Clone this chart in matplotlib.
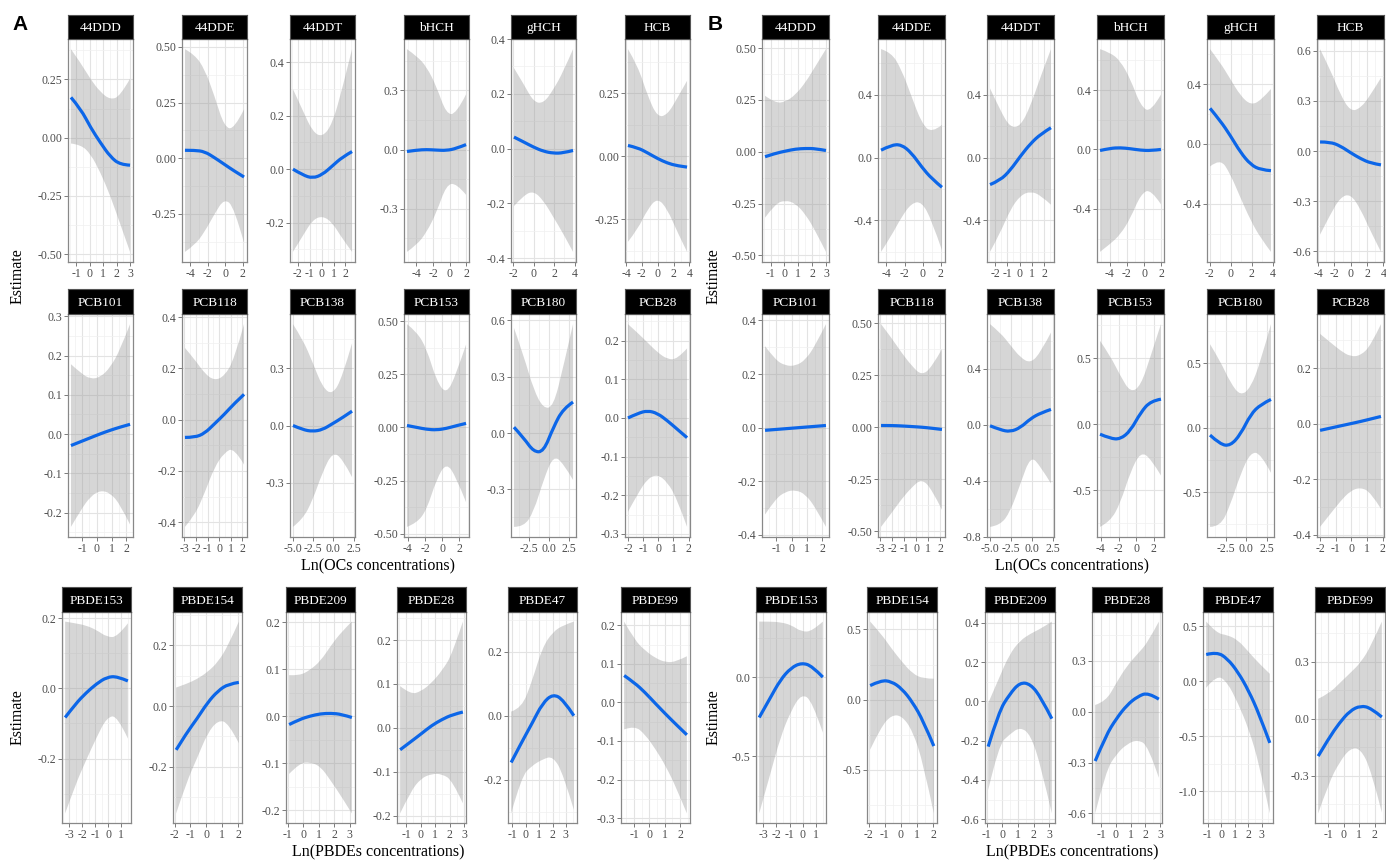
import numpy as np
import matplotlib
matplotlib.use("Agg")
import matplotlib.pyplot as plt
from matplotlib.path import Path
from matplotlib.patches import PathPatch
from matplotlib.ticker import FixedLocator, FixedFormatter

plt.rcParams['font.family'] = ['Liberation Serif', 'DejaVu Serif']

# ---- exposures -------------------------------------------------------------
oc_names = ["44DDD", "44DDE", "44DDT", "bHCH", "gHCH", "HCB",
            "PCB101", "PCB118", "PCB138", "PCB153", "PCB180", "PCB28"]
pbde_names = ["PBDE153", "PBDE154", "PBDE209", "PBDE28", "PBDE47", "PBDE99"]

# observed range of ln(concentration) for each compound
oc_xrange = [(-1.4, 3.0), (-4.6, 2.15), (-2.4, 2.55), (-5.1, 1.95), (-1.95, 3.85), (-3.75, 3.7),
             (-1.75, 2.25), (-2.95, 2.15), (-5.0, 2.3), (-4.1, 2.8), (-4.4, 3.0), (-2.0, 1.9)]
pbde_xrange = [(-3.3, 1.5), (-1.9, 2.05), (-0.9, 3.15), (-1.4, 2.9), (-1.1, 3.6), (-1.65, 2.45)]

oc_xticks = [[-1, 0, 1, 2, 3], [-4, -2, 0, 2], [-2, -1, 0, 1, 2], [-4, -2, 0, 2], [-2, 0, 2, 4],
             [-4, -2, 0, 2, 4], [-1, 0, 1, 2], [-3, -2, -1, 0, 1, 2], [-5.0, -2.5, 0.0, 2.5],
             [-4, -2, 0, 2], [-2.5, 0.0, 2.5], [-2, -1, 0, 1, 2]]
pbde_xticks = [[-3, -2, -1, 0, 1], [-2, -1, 0, 1, 2], [-1, 0, 1, 2, 3], [-1, 0, 1, 2, 3],
               [-1, 0, 1, 2, 3], [-1, 0, 1, 2]]

# ---- model A: smooth estimates (7 points across each exposure range) -------
a_oc_yticks = [[-0.5, -0.25, 0, 0.25], [-0.25, 0, 0.25, 0.5], [-0.2, 0, 0.2, 0.4], [-0.3, 0, 0.3],
               [-0.4, -0.2, 0, 0.2, 0.4], [-0.25, 0, 0.25], [-0.2, -0.1, 0, 0.1, 0.2, 0.3],
               [-0.4, -0.2, 0, 0.2, 0.4], [-0.3, 0, 0.3], [-0.5, -0.25, 0, 0.25, 0.5],
               [-0.3, 0, 0.3, 0.6], [-0.3, -0.2, -0.1, 0, 0.1, 0.2]]
a_oc_est = [[0.173, 0.123, 0.043, -0.022, -0.082, -0.116, -0.118],
            [0.036, 0.036, 0.030, 0.003, -0.027, -0.057, -0.084],
            [0.0, -0.022, -0.034, -0.02, 0.012, 0.045, 0.066],
            [-0.01, -0.003, 0.0, -0.003, -0.005, 0.005, 0.025],
            [0.042, 0.024, 0.005, -0.01, -0.017, -0.016, -0.007],
            [0.043, 0.034, 0.0135, -0.009, -0.027, -0.038, -0.043],
            [-0.029, -0.019, -0.009, 0.001, 0.010, 0.018, 0.025],
            [-0.069, -0.069, -0.053, -0.016, 0.021, 0.063, 0.099],
            [0.0, -0.022, -0.031, -0.022, 0.009, 0.04, 0.075],
            [0.009, 0.0, -0.009, -0.012, -0.005, 0.008, 0.019],
            [0.031, -0.027, -0.1, -0.1, 0.03, 0.13, 0.165],
            [0.0, 0.012, 0.019, 0.012, -0.007, -0.029, -0.051]]
a_oc_lo = [[-0.025, -0.03, -0.07, -0.15, -0.25, -0.37, -0.49],
           [-0.42, -0.39, -0.33, -0.25, -0.18, -0.22, -0.38],
           [-0.31, -0.25, -0.19, -0.175, -0.2, -0.26, -0.31],
           [-0.52, -0.485, -0.42, -0.32, -0.18, -0.17, -0.23],
           [-0.21, -0.17, -0.155, -0.19, -0.25, -0.31, -0.377],
           [-0.34, -0.29, -0.21, -0.165, -0.21, -0.30, -0.38],
           [-0.236, -0.193, -0.158, -0.143, -0.15, -0.179, -0.23],
           [-0.418, -0.373, -0.286, -0.185, -0.128, -0.109, -0.175],
           [-0.53, -0.49, -0.39, -0.245, -0.14, -0.17, -0.27],
           [-0.468, -0.45, -0.388, -0.244, -0.165, -0.234, -0.352],
           [-0.5, -0.5, -0.42, -0.25, -0.12, -0.16, -0.25],
           [-0.243, -0.196, -0.157, -0.146, -0.166, -0.21, -0.282]]
a_oc_hi = [[0.38, 0.32, 0.25, 0.195, 0.163, 0.178, 0.253],
           [0.49, 0.465, 0.40, 0.28, 0.14, 0.13, 0.22],
           [0.30, 0.22, 0.14, 0.12, 0.17, 0.30, 0.45],
           [0.51, 0.475, 0.42, 0.32, 0.18, 0.18, 0.28],
           [0.294, 0.235, 0.17, 0.165, 0.215, 0.28, 0.363],
           [0.426, 0.36, 0.24, 0.155, 0.165, 0.23, 0.30],
           [0.178, 0.155, 0.14, 0.145, 0.17, 0.215, 0.28],
           [0.28, 0.235, 0.18, 0.153, 0.17, 0.235, 0.373],
           [0.53, 0.45, 0.33, 0.2, 0.16, 0.25, 0.43],
           [0.486, 0.45, 0.37, 0.22, 0.155, 0.25, 0.39],
           [0.56, 0.41, 0.23, 0.13, 0.14, 0.35, 0.58],
           [0.243, 0.22, 0.195, 0.17, 0.152, 0.152, 0.18]]

a_pbde_yticks = [[-0.2, 0, 0.2], [-0.2, 0, 0.2], [-0.2, -0.1, 0, 0.1, 0.2],
                 [-0.2, -0.1, 0, 0.1, 0.2], [-0.2, 0, 0.2], [-0.3, -0.2, -0.1, 0, 0.1, 0.2]]
a_pbde_est = [[-0.083, -0.044, -0.013, 0.013, 0.032, 0.034, 0.021],
              [-0.145, -0.089, -0.042, 0.011, 0.05, 0.073, 0.078],
              [-0.018, -0.007, 0.0, 0.005, 0.006, 0.004, -0.003],
              [-0.05, -0.032, -0.014, 0.005, 0.019, 0.03, 0.036],
              [-0.146, -0.083, -0.024, 0.039, 0.068, 0.05, 0.0],
              [0.07, 0.051, 0.026, -0.003, -0.031, -0.058, -0.084]]
a_pbde_lo = [[-0.356, -0.273, -0.205, -0.14, -0.082, -0.078, -0.143],
             [-0.355, -0.251, -0.173, -0.09, -0.047, -0.055, -0.123],
             [-0.123, -0.1, -0.098, -0.107, -0.138, -0.171, -0.207],
             [-0.195, -0.145, -0.115, -0.105, -0.105, -0.12, -0.172],
             [-0.305, -0.189, -0.156, -0.136, -0.126, -0.183, -0.294],
             [-0.07, -0.06, -0.083, -0.121, -0.166, -0.222, -0.288]]
a_pbde_hi = [[0.19, 0.185, 0.179, 0.166, 0.146, 0.146, 0.185],
             [0.061, 0.073, 0.089, 0.112, 0.145, 0.201, 0.279],
             [0.087, 0.086, 0.098, 0.117, 0.15, 0.179, 0.201],
             [0.095, 0.076, 0.083, 0.102, 0.13, 0.168, 0.242],
             [0.013, 0.023, 0.108, 0.214, 0.262, 0.283, 0.294],
             [0.21, 0.162, 0.135, 0.115, 0.104, 0.106, 0.12]]

# ---- model B -----------------------------------------------------------------
b_oc_yticks = [[-0.5, -0.25, 0, 0.25, 0.5], [-0.4, 0, 0.4], [-0.4, 0, 0.4], [-0.4, 0, 0.4],
               [-0.4, 0, 0.4], [-0.6, -0.3, 0, 0.3, 0.6], [-0.4, -0.2, 0, 0.2, 0.4],
               [-0.5, -0.25, 0, 0.25, 0.5], [-0.8, -0.4, 0, 0.4], [-0.5, 0, 0.5],
               [-0.5, 0, 0.5], [-0.4, -0.2, 0, 0.2]]
b_oc_est = [[-0.024, -0.008, 0.003, 0.013, 0.016, 0.015, 0.006],
            [0.047, 0.08, 0.083, 0.03, -0.06, -0.135, -0.189],
            [-0.172, -0.145, -0.08, 0.01, 0.09, 0.15, 0.19],
            [-0.007, 0.008, 0.012, 0.005, -0.005, -0.008, 0.0],
            [0.238, 0.156, 0.056, -0.056, -0.138, -0.173, -0.178],
            [0.054, 0.054, 0.03, -0.01, -0.046, -0.073, -0.083],
            [-0.01, -0.007, -0.004, -0.001, 0.002, 0.005, 0.008],
            [0.008, 0.008, 0.006, 0.003, 0.0, -0.005, -0.011],
            [-0.007, -0.036, -0.05, -0.02, 0.045, 0.085, 0.11],
            [-0.076, -0.109, -0.114, -0.05, 0.089, 0.177, 0.19],
            [-0.057, -0.13, -0.14, -0.052, 0.104, 0.182, 0.22],
            [-0.024, -0.016, -0.008, 0.0, 0.008, 0.017, 0.026]]
b_oc_lo = [[-0.318, -0.251, -0.234, -0.249, -0.303, -0.385, -0.483],
           [-0.6, -0.5, -0.38, -0.29, -0.28, -0.4, -0.59],
           [-0.6, -0.48, -0.33, -0.24, -0.215, -0.24, -0.3],
           [-0.69, -0.637, -0.573, -0.463, -0.303, -0.264, -0.37],
           [-0.15, -0.095, -0.2, -0.36, -0.51, -0.63, -0.72],
           [-0.5, -0.38, -0.277, -0.256, -0.348, -0.483, -0.603],
           [-0.324, -0.267, -0.239, -0.232, -0.249, -0.3, -0.37],
           [-0.479, -0.415, -0.347, -0.29, -0.248, -0.298, -0.397],
           [-0.73, -0.72, -0.62, -0.42, -0.22, -0.3, -0.42],
           [-0.78, -0.74, -0.6, -0.36, -0.21, -0.26, -0.39],
           [-0.77, -0.77, -0.6, -0.36, -0.19, -0.2, -0.35],
           [-0.371, -0.325, -0.279, -0.241, -0.229, -0.247, -0.306]]
b_oc_hi = [[0.27, 0.235, 0.24, 0.275, 0.335, 0.415, 0.495],
           [0.69, 0.67, 0.562, 0.39, 0.219, 0.155, 0.208],
           [0.44, 0.3, 0.19, 0.2, 0.33, 0.52, 0.69],
           [0.676, 0.653, 0.597, 0.473, 0.293, 0.248, 0.37],
           [0.633, 0.544, 0.433, 0.322, 0.26, 0.289, 0.367],
           [0.609, 0.488, 0.337, 0.236, 0.256, 0.337, 0.437],
           [0.304, 0.253, 0.231, 0.23, 0.253, 0.31, 0.386],
           [0.495, 0.431, 0.359, 0.296, 0.248, 0.288, 0.375],
           [0.72, 0.66, 0.57, 0.48, 0.44, 0.52, 0.66],
           [0.633, 0.52, 0.367, 0.24, 0.29, 0.52, 0.76],
           [0.649, 0.519, 0.35, 0.247, 0.31, 0.519, 0.805],
           [0.323, 0.293, 0.263, 0.241, 0.245, 0.281, 0.358]]

b_pbde_yticks = [[-0.5, 0.0], [-0.5, 0, 0.5], [-0.6, -0.4, -0.2, 0, 0.2, 0.4],
                 [-0.6, -0.3, 0, 0.3], [-1.0, -0.5, 0, 0.5], [-0.3, 0, 0.3]]
b_pbde_est = [[-0.254, -0.135, -0.015, 0.061, 0.093, 0.072, 0.002],
              [0.1, 0.137, 0.13, 0.077, -0.019, -0.151, -0.331],
              [-0.23, -0.053, 0.035, 0.097, 0.088, 0.018, -0.088],
              [-0.291, -0.141, -0.04, 0.04, 0.09, 0.114, 0.074],
              [0.242, 0.266, 0.205, 0.083, -0.086, -0.3, -0.56],
              [-0.197, -0.103, -0.022, 0.042, 0.069, 0.056, 0.009]]
b_pbde_lo = [[-0.862, -0.624, -0.38, -0.211, -0.103, -0.149, -0.35],
             [-0.356, -0.198, -0.11, -0.115, -0.223, -0.451, -0.811],
             [-0.451, -0.221, -0.169, -0.13, -0.169, -0.335, -0.57],
             [-0.6, -0.35, -0.25, -0.19, -0.165, -0.2, -0.39],
             [-0.06, 0.06, -0.01, -0.2, -0.43, -0.75, -1.2],
             [-0.499, -0.338, -0.23, -0.156, -0.157, -0.273, -0.494]]
b_pbde_hi = [[0.354, 0.354, 0.35, 0.333, 0.289, 0.293, 0.354],
             [0.556, 0.472, 0.365, 0.269, 0.185, 0.149, 0.149],
             [-0.009, 0.115, 0.239, 0.309, 0.345, 0.371, 0.406],
             [0.04, 0.06, 0.171, 0.271, 0.341, 0.412, 0.532],
             [0.541, 0.434, 0.419, 0.373, 0.266, 0.159, 0.067],
             [0.105, 0.132, 0.186, 0.24, 0.295, 0.385, 0.512]]

# ---- figure layout (pixels) --------------------------------------------------
W, H = 1386, 860
fig = plt.figure(figsize=(W / 100, H / 100), dpi=100)

LINE = '#0c66e8'
TICK_TXT = '#4d4d4d'


def labels_for(vals):
    for d in range(4):
        if all(abs(v * 10 ** d - round(v * 10 ** d)) < 1e-9 for v in vals):
            return ["%.*f" % (d, v) for v in vals]
    return ["%g" % v for v in vals]


def midpoints(ticks):
    step = ticks[1] - ticks[0]
    return list(np.arange(ticks[0] - step, ticks[-1] + 1.01 * step, step / 2))


def smooth_segments(xs, ys):
    """quadratic bezier pieces using the samples as control points"""
    verts = [(xs[0], ys[0])]
    codes = []
    n = len(xs)
    for i in range(1, n - 1):
        if i < n - 2:
            end = ((xs[i] + xs[i + 1]) / 2, (ys[i] + ys[i + 1]) / 2)
        else:
            end = (xs[i + 1], ys[i + 1])
        verts += [(xs[i], ys[i]), end]
        codes += [Path.CURVE3, Path.CURVE3]
    return verts, codes


def curve_path(xs, ys):
    verts, codes = smooth_segments(xs, ys)
    return Path(verts, [Path.MOVETO] + codes)


def band_path(xs, lo, hi):
    v1, c1 = smooth_segments(xs, hi)
    v2, c2 = smooth_segments(xs[::-1], lo[::-1])
    verts = v1 + v2 + [v1[0]]
    codes = [Path.MOVETO] + c1 + [Path.LINETO] + c2 + [Path.CLOSEPOLY]
    return Path(verts, codes)


def panel(left, width, strip_top, strip_bot, bottom, name, xr, xt, yt, est, lo, hi):
    ax = fig.add_axes([left / W, 1 - bottom / H, width / W, (bottom - strip_bot) / H])
    xs = np.linspace(xr[0], xr[1], len(est))
    ax.add_patch(PathPatch(band_path(list(xs), list(lo), list(hi)),
                           facecolor='#999999', alpha=0.4, lw=0, zorder=2))
    ax.add_patch(PathPatch(curve_path(list(xs), list(est)), facecolor='none',
                           edgecolor=LINE, lw=2.3, zorder=3))
    dx = (xr[1] - xr[0]) * 0.05
    ax.set_xlim(xr[0] - dx, xr[1] + dx)
    ymin, ymax = min(lo), max(hi)
    dy = (ymax - ymin) * 0.05
    ax.set_ylim(ymin - dy, ymax + dy)

    ax.xaxis.set_major_locator(FixedLocator(xt))
    ax.xaxis.set_major_formatter(FixedFormatter(labels_for(xt)))
    ax.yaxis.set_major_locator(FixedLocator(yt))
    ax.yaxis.set_major_formatter(FixedFormatter(labels_for(yt)))
    ax.xaxis.set_minor_locator(FixedLocator(midpoints(xt)))
    ax.yaxis.set_minor_locator(FixedLocator(midpoints(yt)))
    ax.grid(which='minor', color='#f0f0f0', lw=0.5, zorder=0)
    ax.grid(which='major', color='#e3e3e3', lw=0.8, zorder=0)
    ax.set_axisbelow(True)
    ax.tick_params(which='major', length=2.8, width=0.6, color='#666666',
                   labelsize=8.5, labelcolor=TICK_TXT, pad=1.5)
    ax.tick_params(which='minor', length=0)
    for s in ax.spines.values():
        s.set_color('#888888')
        s.set_linewidth(0.9)

    sax = fig.add_axes([left / W, 1 - strip_bot / H, width / W, (strip_bot - strip_top) / H])
    sax.set_facecolor('black')
    sax.set_xticks([])
    sax.set_yticks([])
    for s in sax.spines.values():
        s.set_color('#555555')
        s.set_linewidth(0.8)
    sax.text(0.5, 0.45, name, color='white', fontsize=9.5, ha='center', va='center',
             transform=sax.transAxes)


oc_rows = [(15, 39, 262), (289, 314, 537)]
pbde_row = (587, 612, 823)

a_oc_left, a_oc_w = [68, 182, 290, 404, 511, 625], 65
b_oc_left, b_oc_w = [762, 878, 987, 1097, 1207, 1317], 67
a_pb_left, a_pb_w = [62, 173, 286, 397, 508, 621], 69
b_pb_left, b_pb_w = [756, 867, 985, 1092, 1203, 1315], 70

for lefts, w, yts, est, lo, hi in [(a_oc_left, a_oc_w, a_oc_yticks, a_oc_est, a_oc_lo, a_oc_hi),
                                   (b_oc_left, b_oc_w, b_oc_yticks, b_oc_est, b_oc_lo, b_oc_hi)]:
    for i in range(12):
        st, sb, bt = oc_rows[i // 6]
        panel(lefts[i % 6], w, st, sb, bt, oc_names[i], oc_xrange[i], oc_xticks[i],
              yts[i], est[i], lo[i], hi[i])

for lefts, w, yts, est, lo, hi in [(a_pb_left, a_pb_w, a_pbde_yticks, a_pbde_est, a_pbde_lo, a_pbde_hi),
                                   (b_pb_left, b_pb_w, b_pbde_yticks, b_pbde_est, b_pbde_lo, b_pbde_hi)]:
    for i in range(6):
        st, sb, bt = pbde_row
        panel(lefts[i], w, st, sb, bt, pbde_names[i], pbde_xrange[i], pbde_xticks[i],
              yts[i], est[i], lo[i], hi[i])

# ---- titles ------------------------------------------------------------------
def ftext(x, y, s, **kw):
    fig.text(x / W, 1 - y / H, s, **kw)


ftext(20, 25, "A", fontsize=15, fontweight='bold', family='Liberation Sans', ha='center', va='center')
ftext(715, 25, "B", fontsize=15, fontweight='bold', family='Liberation Sans', ha='center', va='center')

for x in (18, 714):
    ftext(x, 276, "Estimate", fontsize=11.5, rotation=90, ha='center', va='center')
    ftext(x, 717, "Estimate", fontsize=11.5, rotation=90, ha='center', va='center')
for x in (378, 1072):
    ftext(x, 566, "Ln(OCs concentrations)", fontsize=11.5, ha='center', va='center')
    ftext(x, 852, "Ln(PBDEs concentrations)", fontsize=11.5, ha='center', va='center')

fig.savefig("out.png", dpi=100, facecolor='white')
